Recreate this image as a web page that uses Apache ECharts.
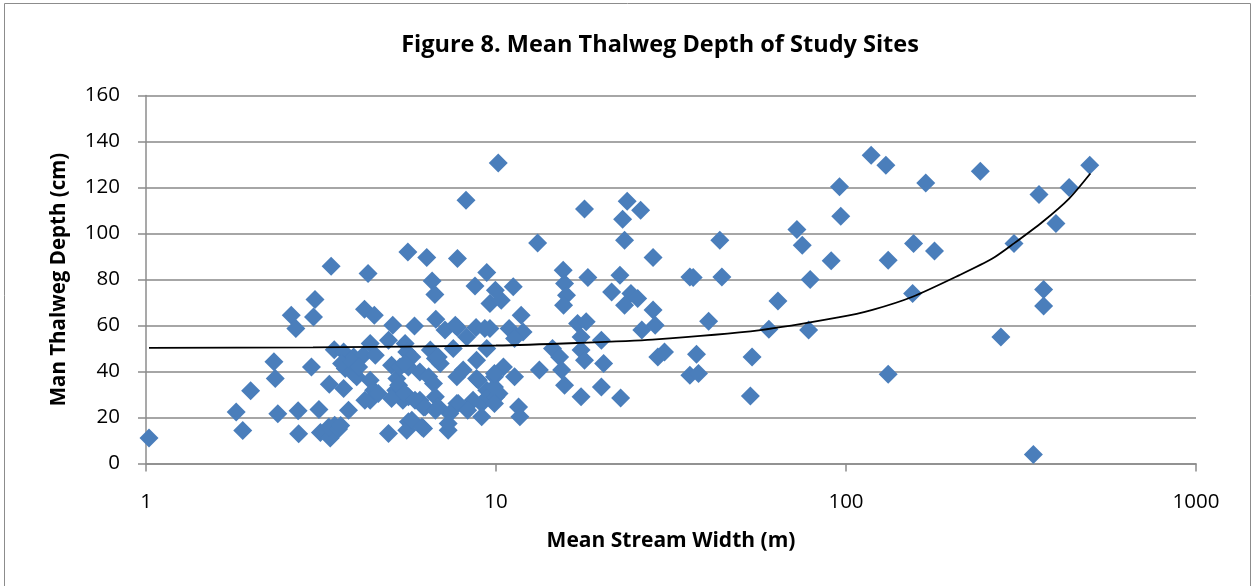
<!DOCTYPE html>
<html>
<head>
<meta charset="utf-8">
<script src="https://cdn.jsdelivr.net/npm/echarts@6/dist/echarts.min.js"></script>
<style>
html,body{margin:0;padding:0;background:#fff;}
#chart{width:1252px;height:586px;}
</style>
</head>
<body>
<div id="chart"></div>
<script>
const chartTitle = 'Figure 8. Mean Thalweg Depth of Study Sites';
const xAxisTitle = 'Mean Stream Width (m)';
const yAxisTitle = 'Man Thalweg Depth (cm)';
const xTicks = [1, 10, 100, 1000];
const yTicks = [0, 20, 40, 60, 80, 100, 120, 140, 160];

// [mean stream width (m), mean thalweg depth (cm)]
const sites = [
  [1.02,11.1],[1.81,22.4],[1.89,14.3],[1.99,31.6],[2.32,44.2],[2.34,37.0],[2.38,21.6],[2.60,64.5],
  [2.68,58.7],[2.72,22.9],[2.73,12.9],[2.97,42.0],[3.01,63.7],[3.04,71.3],[3.12,23.5],[3.15,13.5],
  [3.34,34.5],[3.36,11.1],[3.38,85.8],[3.45,49.5],[3.46,16.6],[3.33,15.9],[3.55,15.0],[3.6,16.5],
  [5.60,92.0],[6.34,89.6],[7.76,89.1],[4.31,82.6],[9.41,83.0],[6.57,79.4],[8.71,77.2],[6.69,73.5],
  [9.96,75.3],[9.61,69.6],[4.21,67.1],[4.49,64.5],[5.07,60.1],[5.85,59.8],[6.73,62.7],[7.15,58.0],
  [7.76,59.1],[8.77,59.1],[9.61,58.7],[4.93,53.6],[4.37,52.2],[5.50,52.2],[8.25,55.0],[7.55,50.0],
  [8.8,44.9],[9.41,50.0],[3.67,48.5],[3.92,46.3],[4.18,47.1],[3.71,41.3],[3.92,39.1],[5.56,48.5],
  [6.49,49.3],[6.71,45.6],[6.93,43.5],[5.03,42.7],[5.62,42.0],[5.21,37.0],[6.06,39.8],[6.42,37.7],
  [6.63,34.8],[7.73,37.7],[8.06,40.6],[8.8,37.0],[9.41,31.9],[9.9,37.7],[3.67,32.6],[4.0,37.7],
  [4.37,36.2],[4.47,31.9],[4.37,27.5],[4.61,30.4],[5.17,31.9],[5.42,27.5],[5.62,29.0],[6.06,27.5],
  [6.21,24.6],[6.71,29.0],[6.84,24.6],[7.73,26.1],[8.6,27.5],[9.1,26.1],[9.5,29.0],[10.0,29.0],
  [3.79,23.2],[4.93,13.0],[5.62,18.1],[6.21,15.2],[7.38,21.7],[7.3,14.5],[9.1,20.3],[8.21,114.5],
  [3.62,43.5],[3.88,44.2],[4.05,42.0],[4.52,47.1],[5.32,42.0],[5.27,34.0],[4.22,27.5],[5.03,28.3],
  [5.56,14.5],[7.65,60.1],[9.29,58.7],[6.84,46.3],[5.75,46.3],[5.49,43.5],[8.9,36.2],[9.9,33.3],
  [7.8,26.1],[5.49,30.4],[5.87,27.5],[6.27,24.6],[6.71,23.2],[7.3,17.4],[5.75,18.8],[6.14,15.9],
  [8.3,23.2],
  [10.15,130.7],[17.9,110.6],[23.7,114.0],[25.9,110.1],[23.0,106.2],[23.3,97.1],[13.15,95.9],[28.1,89.6],
  [15.56,84.0],[18.3,80.9],[22.6,81.9],[15.7,78.3],[15.9,73.2],[15.6,68.8],[11.2,76.8],[10.35,71.0],
  [21.4,74.6],[23.3,68.8],[24.3,73.9],[25.4,71.7],[28.1,66.7],[11.8,64.5],[10.9,58.7],[11.95,57.2],
  [11.3,54.3],[17.1,60.9],[18.1,61.6],[17.5,55.0],[26.1,58.0],[28.5,60.1],[14.5,50.0],[15.2,46.3],
  [17.5,49.3],[17.9,44.9],[20.0,53.6],[20.3,43.5],[29.0,46.3],[30.3,48.5],[13.3,40.6],[15.4,40.6],
  [10.5,42.0],[11.3,37.7],[9.9,39.1],[15.7,34.0],[20.0,33.3],[17.5,29.0],[22.7,28.5],[10.2,30.4],
  [9.9,26.1],[11.6,24.6],[11.7,20.3],
  [95.8,120.3],[96.6,107.5],[72.4,101.7],[75.0,94.9],[43.6,97.1],[90.7,88.1],[35.8,81.1],[36.6,80.9],
  [44.2,81.1],[79.0,80.0],[63.9,70.6],[40.5,61.9],[60.2,58.4],[78.2,58.0],[37.4,47.5],[35.8,38.4],
  [37.9,39.1],[53.9,46.3],[53.3,29.4],
  [118,134.0],[130,129.7],[242,127.1],[497,129.7],[169,122.0],[356,117.0],[434,120.0],[398,104.3],
  [156,95.7],[179,92.4],[132,88.4],[302,95.7],[155,73.9],[367,75.7],[367,68.5],[277,55.0],
  [132,38.8],[343,3.9]
];

// trend line
const trendWidth = [1.02, 3, 10, 17, 28, 57, 95, 119, 155, 211, 262, 302, 364, 434, 499];
const trendDepth = [50.3, 50.5, 51.3, 52.4, 53.9, 58.0, 63.5, 66.8, 72.5, 81.9, 89.1, 95.7, 105.0, 115.2, 126.1];

const chart = echarts.init(document.getElementById('chart'), null, {renderer: 'canvas'});
const fontFam = '"Open Sans", "Liberation Sans", sans-serif';

chart.setOption({
  animation: false,
  backgroundColor: '#ffffff',
  graphic: [{
    type: 'rect', shape: {x: 4.5, y: 3.5, width: 1246, height: 590},
    style: {fill: 'none', stroke: '#8c8c8c', lineWidth: 1}, silent: true, z: -1
  }],
  title: {
    text: chartTitle, left: 655, top: 28, textAlign: 'center',
    textStyle: {fontFamily: fontFam, fontWeight: 'bold', fontSize: 23.5, color: '#000'}
  },
  grid: {left: 146, right: 56, top: 95.5, bottom: 122.5, containLabel: false},
  xAxis: {
    type: 'log', logBase: 10, min: 1, max: 1000,
    name: xAxisTitle, nameLocation: 'middle', nameGap: 67,
    nameTextStyle: {fontFamily: fontFam, fontWeight: 'bold', fontSize: 21, color: '#000'},
    axisLine: {show: true, lineStyle: {color: '#8c8c8c', width: 1.5}},
    axisTick: {show: true, length: 8, inside: false, lineStyle: {color: '#8c8c8c', width: 1.5}},
    minorTick: {show: false},
    splitLine: {show: false},
    axisLabel: {fontFamily: fontFam, fontSize: 20.5, color: '#000', margin: 28,
      formatter: v => xTicks.includes(Math.round(v)) ? String(Math.round(v)) : ''}
  },
  yAxis: {
    type: 'value', min: yTicks[0], max: yTicks[yTicks.length - 1], interval: 20,
    name: yAxisTitle, nameLocation: 'middle', nameGap: 76,
    nameTextStyle: {fontFamily: fontFam, fontWeight: 'bold', fontSize: 20.5, color: '#000'},
    axisLine: {show: true, lineStyle: {color: '#8c8c8c', width: 1.5}},
    axisTick: {show: true, length: 8, lineStyle: {color: '#8c8c8c', width: 1.5}},
    splitLine: {show: true, lineStyle: {color: '#a6a6a6', width: 2}},
    axisLabel: {fontFamily: fontFam, fontSize: 20.5, color: '#000', margin: 26}
  },
  series: [
    {
      type: 'scatter', symbol: 'diamond', symbolSize: 19,
      itemStyle: {color: '#4a7ebb', opacity: 1},
      data: sites, z: 2
    },
    {
      type: 'line', data: trendWidth.map((w, i) => [w, trendDepth[i]]),
      smooth: 0.25, showSymbol: false, symbol: 'none',
      lineStyle: {color: '#000', width: 1.8}, z: 3
    }
  ]
});
</script>
</body>
</html>
